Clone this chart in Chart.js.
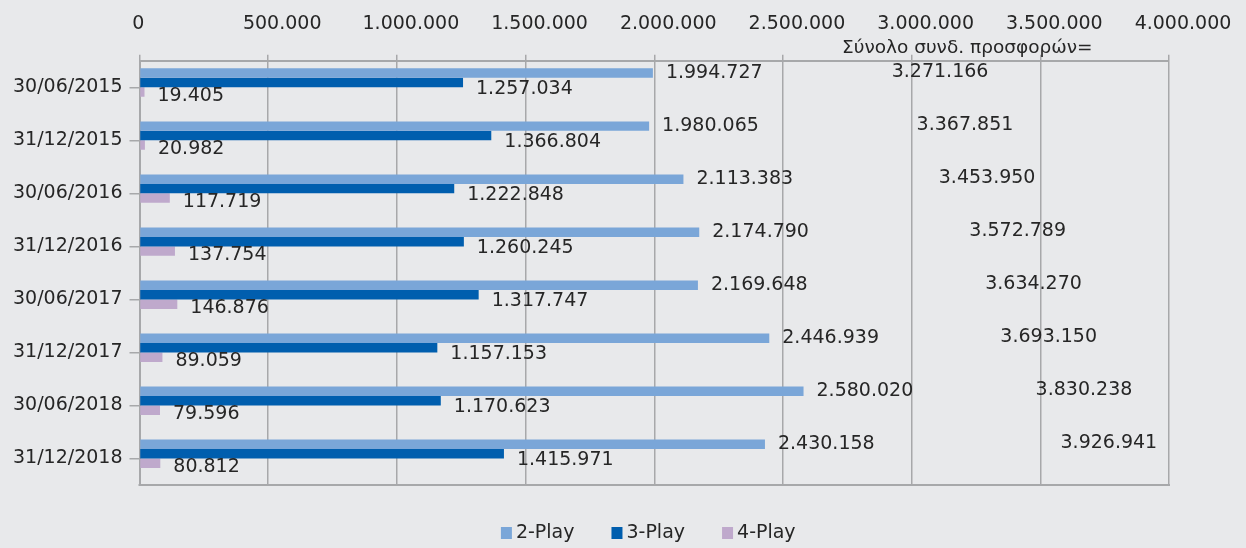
<!DOCTYPE html>
<html>
<head>
<meta charset="utf-8">
<script src="https://cdn.jsdelivr.net/npm/chart.js@4.4.1/dist/chart.umd.min.js"></script>
<style>
    html, body { margin: 0; padding: 0; background: #e8e9eb; }
    canvas { display: block; }
</style>
</head>
<body>
<canvas id="myChart" width="1246" height="548"></canvas>
<script>
const dates = ['30/06/2015', '31/12/2015', '30/06/2016', '31/12/2016', '30/06/2017', '31/12/2017', '30/06/2018', '31/12/2018'];
const play2 = [1994727, 1980065, 2113383, 2174790, 2169648, 2446939, 2580020, 2430158];
const play3 = [1257034, 1366804, 1222848, 1260245, 1317747, 1157153, 1170623, 1415971];
const play4 = [19405, 20982, 117719, 137754, 146876, 89059, 79596, 80812];
const totals = [3271166, 3367851, 3453950, 3572789, 3634270, 3693150, 3830238, 3926941];
const seriesNames = ['2-Play', '3-Play', '4-Play'];
const totalTitle = 'Σύνολο συνδ. προσφορών=';

const colors = ['#7aa6d8', '#005eae', '#bfa9cc'];
const textColor = '#262626';
const gridColor = '#a7a8aa';
const font = '"DejaVu Sans", sans-serif';

const fmt = (v) => String(v).replace(/\B(?=(\d{3})+(?!\d))/g, '.');

// values next to the bars + totals column
const labelsPlugin = {
    id: 'labels',
    afterDatasetsDraw(chart) {
        const ctx = chart.ctx;
        const xScale = chart.scales.x;
        const yScale = chart.scales.y;
        const offY = [0, 6, 4];
        ctx.save();
        ctx.font = '19px ' + font;
        ctx.fillStyle = textColor;
        ctx.textBaseline = 'middle';
        ctx.textAlign = 'left';
        for (let d = 0; d < 3; d++) {
            const meta = chart.getDatasetMeta(d);
            meta.data.forEach((bar, i) => {
                ctx.fillText(fmt(chart.data.datasets[d].data[i]), bar.x + 13, bar.y + offY[d]);
            });
        }
        ctx.textAlign = 'right';
        totals.forEach((t, i) => {
            ctx.fillText(fmt(t), xScale.getPixelForValue(t) + 7, yScale.getPixelForValue(i) - 15);
        });
        ctx.font = '18.5px ' + font;
        ctx.textAlign = 'left';
        ctx.fillText(totalTitle, chart.chartArea.right - 327, chart.chartArea.top - 13);
        ctx.restore();
    }
};

const framePlugin = {
    id: 'frame',
    afterDraw(chart) {
        const ctx = chart.ctx;
        const a = chart.chartArea;
        ctx.save();
        ctx.strokeStyle = gridColor;
        ctx.lineWidth = 2;
        ctx.beginPath();
        ctx.moveTo(a.left - 1, a.bottom);
        ctx.lineTo(a.right + 1, a.bottom);
        ctx.stroke();

        // legend
        ctx.font = '19px ' + font;
        ctx.textBaseline = 'middle';
        ctx.textAlign = 'left';
        const widths = seriesNames.map(n => ctx.measureText(n).width);
        const gap = 37;
        let total = gap * (seriesNames.length - 1);
        widths.forEach(w => total += 15 + w);
        let x = (a.left + a.right) / 2 - 6 - total / 2;
        const y = 533;
        seriesNames.forEach((n, i) => {
            ctx.fillStyle = colors[i];
            ctx.fillRect(x, y - 6, 11, 12);
            ctx.fillStyle = textColor;
            ctx.fillText(n, x + 15, y);
            x += 15 + widths[i] + gap;
        });
        ctx.restore();
    }
};

const data = {
    labels: dates,
    datasets: [
        { label: seriesNames[0], data: play2, backgroundColor: colors[0] },
        { label: seriesNames[1], data: play3, backgroundColor: colors[1] },
        { label: seriesNames[2], data: play4, backgroundColor: colors[2] },
        { label: 'Σύνολο', data: totals, backgroundColor: 'rgba(0,0,0,0)' }
    ]
};

const config = {
    type: 'bar',
    data: data,
    options: {
        responsive: false,
        animation: false,
        indexAxis: 'y',
        categoryPercentage: 0.715,
        barPercentage: 1,
        layout: {
            autoPadding: false,
            padding: { top: -6, left: 6, right: 77, bottom: 63 }
        },
        scales: {
            x: {
                position: 'top',
                min: 0,
                max: 4000000,
                grid: { color: gridColor, lineWidth: 1.5, tickLength: 6 },
                border: { color: gridColor, width: 2 },
                ticks: {
                    stepSize: 500000,
                    padding: 19,
                    labelOffset: 14,
                    color: textColor,
                    font: { family: font, size: 19 },
                    maxRotation: 0,
                    callback: function(value) {
                        return value === 0 ? '0     ' : fmt(value);
                    }
                }
            },
            y: {
                grid: { drawOnChartArea: false, offset: false, tickLength: 10, color: gridColor, lineWidth: 1.5 },
                border: { color: gridColor, width: 2 },
                ticks: {
                    color: textColor,
                    padding: 7,
                    font: { family: font, size: 19 }
                }
            }
        },
        plugins: {
            legend: { display: false },
            tooltip: { enabled: false }
        }
    },
    plugins: [labelsPlugin, framePlugin]
};

const myChart = new Chart(document.getElementById('myChart'), config);
</script>
</body>
</html>
